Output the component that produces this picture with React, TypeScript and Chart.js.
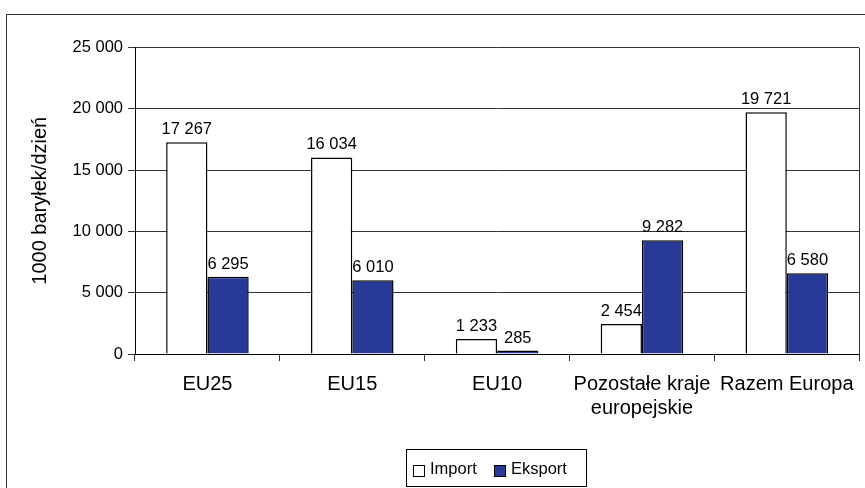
import React, { useEffect, useRef } from "react";
import { Chart, registerables } from "chart.js";

Chart.register(...registerables);

const categories: (string | string[])[] = [
  "EU25",
  "EU15",
  "EU10",
  ["Pozostałe kraje", "europejskie"],
  "Razem Europa",
];
const importValues = [17267, 16034, 1233, 2454, 19721];
const eksportValues = [6295, 6010, 285, 9282, 6580];
const seriesNames = ["Import", "Eksport"];
const yAxisTitle = "1000 baryłek/dzień";
const yMax = 25000;
const yStep = 5000;

const FONT = "'Liberation Sans', Arial, Helvetica, sans-serif";
const EKSPORT_BLUE = "#283A98";
const LINE = "#333333";

const fmt = (v: number) =>
  String(Math.round(v)).replace(/\B(?=(\d{3})+(?!\d))/g, " ");

// Value labels above each bar
const valueLabels = {
  id: "valueLabels",
  afterDatasetsDraw(chart: any) {
    const { ctx } = chart;
    ctx.save();
    ctx.font = `16.5px ${FONT}`;
    ctx.fillStyle = "#000";
    ctx.textAlign = "center";
    ctx.textBaseline = "alphabetic";
    chart.data.datasets.forEach((ds: any, di: number) => {
      const meta = chart.getDatasetMeta(di);
      meta.data.forEach((bar: any, i: number) => {
        ctx.fillText(fmt(ds.data[i]), bar.x, bar.y - 8);
      });
    });
    ctx.restore();
  },
};

// Frame around the whole chart, right edge of plot area, boxed legend
const frameAndLegend = {
  id: "frameAndLegend",
  afterDraw(chart: any) {
    const { ctx, chartArea } = chart;
    ctx.save();
    ctx.strokeStyle = LINE;
    ctx.lineWidth = 1;
    // outer frame
    ctx.strokeRect(6.5, 14.5, 1000, 1000);
    // plot area right edge
    const rx = Math.round(chartArea.right) + 0.5;
    ctx.beginPath();
    ctx.moveTo(rx, Math.round(chartArea.top));
    ctx.lineTo(rx, Math.round(chartArea.bottom));
    ctx.stroke();

    // legend box
    ctx.strokeStyle = "#000";
    ctx.strokeRect(406.5, 449.5, 180, 37);
    ctx.font = `16.5px ${FONT}`;
    ctx.textAlign = "left";
    ctx.textBaseline = "alphabetic";
    const items = [
      { x: 413, fill: "#ffffff", textX: 430 },
      { x: 494, fill: EKSPORT_BLUE, textX: 511 },
    ];
    chart.data.datasets.forEach((ds: any, i: number) => {
      const it = items[i];
      ctx.fillStyle = it.fill;
      ctx.fillRect(it.x + 0.5, 465.5, 11, 11);
      ctx.strokeStyle = "#000";
      ctx.strokeRect(it.x + 0.5, 465.5, 11, 11);
      ctx.fillStyle = "#000";
      ctx.fillText(ds.label, it.textX, 473.5);
    });
    ctx.restore();
  },
};

export default function App() {
  const canvasRef = useRef<HTMLCanvasElement | null>(null);

  useEffect(() => {
    const canvas = canvasRef.current;
    if (!canvas) return;
    const chart = new Chart(canvas, {
      type: "bar",
      data: {
        labels: categories,
        datasets: [
          {
            label: seriesNames[0],
            data: importValues,
            backgroundColor: "#ffffff",
            borderColor: "#000",
            borderWidth: 1.5,
            barPercentage: 1,
            categoryPercentage: 0.57,
          },
          {
            label: seriesNames[1],
            data: eksportValues,
            backgroundColor: EKSPORT_BLUE,
            borderColor: "#000",
            borderWidth: 1.5,
            barPercentage: 1,
            categoryPercentage: 0.57,
          },
        ],
      },
      options: {
        responsive: false,
        animation: false,
        devicePixelRatio: 1,
        layout: { padding: { top: 47.5, right: 5, bottom: 0, left: 0 } },
        plugins: {
          legend: { display: false },
          tooltip: { enabled: false },
        },
        scales: {
          x: {
            offset: true,
            grid: {
              offset: true,
              drawOnChartArea: false,
              drawTicks: true,
              tickLength: 7,
              color: LINE,
            },
            border: { display: true, color: "#000", width: 1 },
            ticks: {
              color: "#000",
              font: { family: FONT, size: 20 },
              maxRotation: 0,
              minRotation: 0,
              autoSkip: false,
              padding: 11,
            },
            afterFit(scale: any) {
              scale.height = 134;
            },
          },
          y: {
            min: 0,
            max: yMax,
            grid: {
              color: LINE,
              lineWidth: 1,
              drawTicks: true,
              tickLength: 7,
            },
            border: { display: true, color: "#000", width: 1 },
            ticks: {
              stepSize: yStep,
              color: "#000",
              font: { family: FONT, size: 16.5 },
              padding: 5,
              callback: (v: any) => fmt(Number(v)),
            },
            title: {
              display: true,
              text: yAxisTitle,
              color: "#000",
              font: { family: FONT, size: 20 },
              padding: { top: 28, bottom: 0 },
            },
            afterFit(scale: any) {
              scale.width = 135;
            },
          },
        },
      },
      plugins: [valueLabels, frameAndLegend],
    });
    return () => chart.destroy();
  }, []);

  return (
    <div
      style={{
        position: "fixed",
        left: 0,
        top: 0,
        width: 865,
        height: 488,
        overflow: "hidden",
        background: "#fff",
      }}
    >
      <canvas
        ref={canvasRef}
        width={865}
        height={488}
        style={{ width: 865, height: 488, display: "block" }}
      />
    </div>
  );
}
